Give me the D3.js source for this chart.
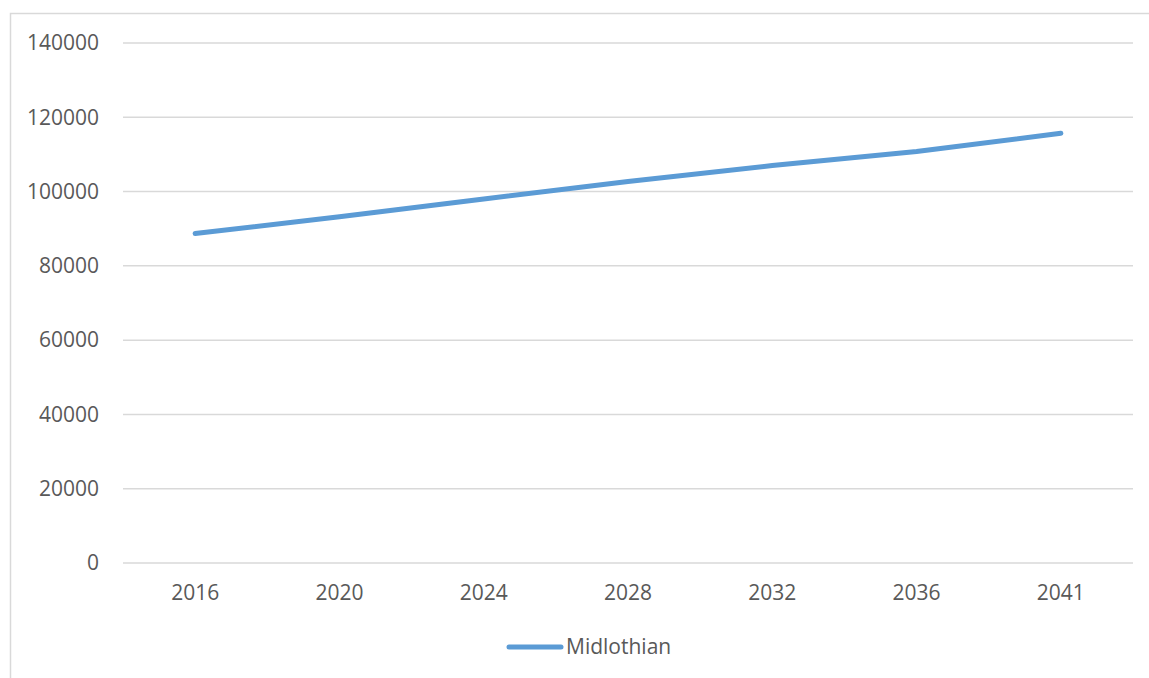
<!DOCTYPE html>
<html>
<head>
<meta charset="utf-8">
<script src="https://cdn.jsdelivr.net/npm/d3@7"></script>
<style>
  html, body { margin: 0; padding: 0; background: #fff; }
  svg { display: block; }
  text { font-family: "Open Sans", "Noto Sans", sans-serif; fill: #595959; }
</style>
</head>
<body>
<svg id="chart" width="1149" height="678"></svg>
<script>
// Projected population, Midlothian
const years = ["2016", "2020", "2024", "2028", "2032", "2036", "2041"];
const population = [88700, 93200, 98000, 102700, 107000, 110800, 115700];
const yTicks = [0, 20000, 40000, 60000, 80000, 100000, 120000, 140000];
const seriesName = "Midlothian";

const svg = d3.select("#chart");
const W = 1149, H = 678;
const plot = { left: 123, right: 1133, top: 43, bottom: 563 };
const fontSize = "21px";

// chart area frame
svg.append("rect")
  .attr("x", 10.5).attr("y", 13.5)
  .attr("width", W + 10).attr("height", H + 10)
  .attr("fill", "none").attr("stroke", "#d9d9d9").attr("stroke-width", 1.5);

const x = d3.scaleBand().domain(years).range([plot.left, plot.right]);
const y = d3.scaleLinear().domain([0, 140000]).range([plot.bottom, plot.top]);

// horizontal gridlines + y labels
const yAxis = d3.axisLeft(y).tickValues(yTicks).tickSize(0).tickPadding(24)
  .tickFormat(d3.format("d"));
const gy = svg.append("g").attr("transform", `translate(${plot.left},0)`).call(yAxis);
gy.select(".domain").remove();
gy.selectAll("text").style("font-size", fontSize).attr("fill", "#595959")
  .style("font-family", "'Open Sans', sans-serif");

svg.append("g").selectAll("line").data(yTicks).join("line")
  .attr("x1", plot.left).attr("x2", plot.right)
  .attr("y1", d => y(d)).attr("y2", d => y(d))
  .attr("stroke", "#d9d9d9").attr("stroke-width", 1.5);

// category labels
const xAxis = d3.axisBottom(x).tickSize(0).tickPadding(22);
const gx = svg.append("g").attr("transform", `translate(0,${plot.bottom})`).call(xAxis);
gx.select(".domain").remove();
gx.selectAll("text").style("font-size", fontSize).attr("fill", "#595959")
  .style("font-family", "'Open Sans', sans-serif");

// series line
const line = d3.line()
  .x((d, i) => x(years[i]) + x.bandwidth() / 2)
  .y(d => y(d));
svg.append("path")
  .datum(population)
  .attr("d", line)
  .attr("fill", "none")
  .attr("stroke", "#5b9bd5")
  .attr("stroke-width", 5)
  .attr("stroke-linecap", "round")
  .attr("stroke-linejoin", "round");

// legend
const lg = svg.append("g");
lg.append("line")
  .attr("x1", 509).attr("x2", 561).attr("y1", 647).attr("y2", 647)
  .attr("stroke", "#5b9bd5").attr("stroke-width", 5).attr("stroke-linecap", "round");
lg.append("text")
  .attr("x", 566).attr("y", 654)
  .style("font-size", fontSize)
  .text(seriesName);
</script>
</body>
</html>
